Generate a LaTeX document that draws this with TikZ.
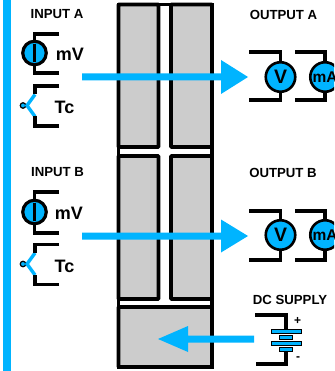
\documentclass[tikz,border=0pt]{standalone}
\usepackage{fontspec}
\setmainfont{Liberation Sans}
\definecolor{sky}{RGB}{0,180,255}
\definecolor{panel}{RGB}{204,204,204}
\tikzset{
  x=1pt,y=-1pt,
  wire/.style={draw=black,line width=3.3pt,line cap=butt,line join=miter},
  panelbox/.style={fill=panel,draw=black,line width=3.6pt,rounded corners=0.6pt},
  flow/.style={fill=sky,draw=none},
  meter/.style={circle,draw=black,fill=sky,line width=2.6pt,minimum size=29.5pt,inner sep=0pt,font=\bfseries\fontsize{19.5}{19.5}\selectfont},
  meterA/.style={circle,draw=black,fill=sky,line width=2.6pt,minimum size=29.5pt,inner sep=0pt,font=\bfseries\fontsize{15.5}{15.5}\selectfont},
  src/.style={circle,draw=black,fill=sky,line width=3.2pt,minimum size=23.5pt,inner sep=0pt},
  head/.style={font=\bfseries\fontsize{13.2}{14}\selectfont,inner sep=0pt},
  sym/.style={font=\bfseries\fontsize{18}{18}\selectfont,inner sep=0pt},
  tip/.style={circle,draw=black,fill=sky,line width=1.2pt,minimum size=5.5pt,inner sep=0pt},
  plate/.style={rectangle,draw=black,fill=sky,line width=1pt,inner sep=0pt},
}
\newcommand{\inputgroup}[6]{%
  \coordinate (#1a1) at (59,#3);
  \coordinate (#1a2) at (59,#4);
  \node[src] (#1s) at (34.5,#2) {};
  \draw[wire] (#1a1) -| (#1s.north);
  \draw[wire] (#1a2) -| (#1s.south);
  \draw[black,line width=3.6pt] (34.5,#2-9) -- (34.5,#2+9);
  \node[sym] (#1mv) at (#6,#2+1) {mV};
  \node[tip] (#1t) at (23,#5) {};
  \coordinate (#1t1) at (35,#5-11);
  \coordinate (#1t2) at (35,#5+11);
  \coordinate (#1tv) at (27,#5);
  \draw[sky,line width=3.4pt,line cap=butt] (#1t1) -- (#1tv) -- (#1t2);
  \coordinate (#1c1) at (59,#5-19.5);
  \coordinate (#1c2) at (59,#5+20.5);
  \draw[wire] (#1c1) -| (#1t1);
  \draw[wire] (#1c2) -| (#1t2);
  \node[sym] (#1tc) at (64.5,#5+2) {Tc};
}
\newcommand{\outputgroup}[4]{%
  \node[meter] (#1v) at (280.5,#2) {V};
  \node[meterA] (#1m) at (325,#2) {mA};
  \coordinate (#1a) at (249,#3);
  \coordinate (#1b) at (249,#4);
  \coordinate (#1c) at (295,#3);
  \coordinate (#1d) at (295,#4);
  \draw[wire] (#1a) -| (#1v.north);
  \draw[wire] (#1b) -| (#1v.south);
  \draw[wire] (#1c) -| (#1m.north);
  \draw[wire] (#1d) -| (#1m.south);
}
\begin{document}
\begin{tikzpicture}
\useasboundingbox (0,0) rectangle (334,371);
\clip (0,0) rectangle (334,371);
\fill[white] (0,0) rectangle (334,371);
\fill[sky] (3,0) rectangle (10.5,371);
\draw[black,line width=3.6pt] (118.5,4.5) rectangle (212,367);
\draw[panelbox] (118.5,4.5) rectangle (158.5,147);
\draw[panelbox] (171,4.5) rectangle (212,147);
\draw[panelbox] (118.5,156) rectangle (158.5,299);
\draw[panelbox] (171,156) rectangle (212,299);
\draw[panelbox] (118.5,307) rectangle (212,367);
\node[head] (ia) at (57,14.5) {INPUT A};
\node[head] (oa) at (283.5,14.5) {OUTPUT A};
\node[head] (ib) at (57.5,172) {INPUT B};
\node[head] (ob) at (283,173) {OUTPUT B};
\node[head] (dc) at (290,299.5) {DC SUPPLY};
\inputgroup{A}{53}{34}{73}{105.5}{70}
\inputgroup{B}{212}{192}{233}{264}{69}
\outputgroup{X}{77}{52}{100}
\outputgroup{Y}{235}{211}{260}
\node[plate,minimum width=30pt,minimum height=4pt] (p1) at (286,331.5) {};
\node[plate,minimum width=13pt,minimum height=4pt] (p2) at (286,337.5) {};
\node[plate,minimum width=30pt,minimum height=4pt] (p3) at (286,343.5) {};
\node[plate,minimum width=13pt,minimum height=4pt] (p4) at (286,349.5) {};
\coordinate (bt) at (255,315);
\coordinate (bb) at (256,364);
\draw[wire] (bt) -| (p1.north);
\draw[wire] (bb) -| (p4.south);
\node[font=\bfseries\fontsize{12}{12}\selectfont,inner sep=0pt] (plus) at (297.5,321) {+};
\node[font=\bfseries\fontsize{12}{12}\selectfont,inner sep=0pt] (minus) at (298,359) {-};
\fill[flow] (82,73.5) -- (221,73.5) -- (221,60) -- (248,77) -- (221,94) -- (221,80.5) -- (82,80.5) -- cycle;
\fill[flow] (82,232.5) -- (221,232.5) -- (221,219.5) -- (248,236) -- (221,252.5) -- (221,239.5) -- (82,239.5) -- cycle;
\fill[flow] (254,335.5) -- (188,335.5) -- (188,326) -- (158,339) -- (188,352) -- (188,342.5) -- (254,342.5) -- cycle;
\end{tikzpicture}
\end{document}
